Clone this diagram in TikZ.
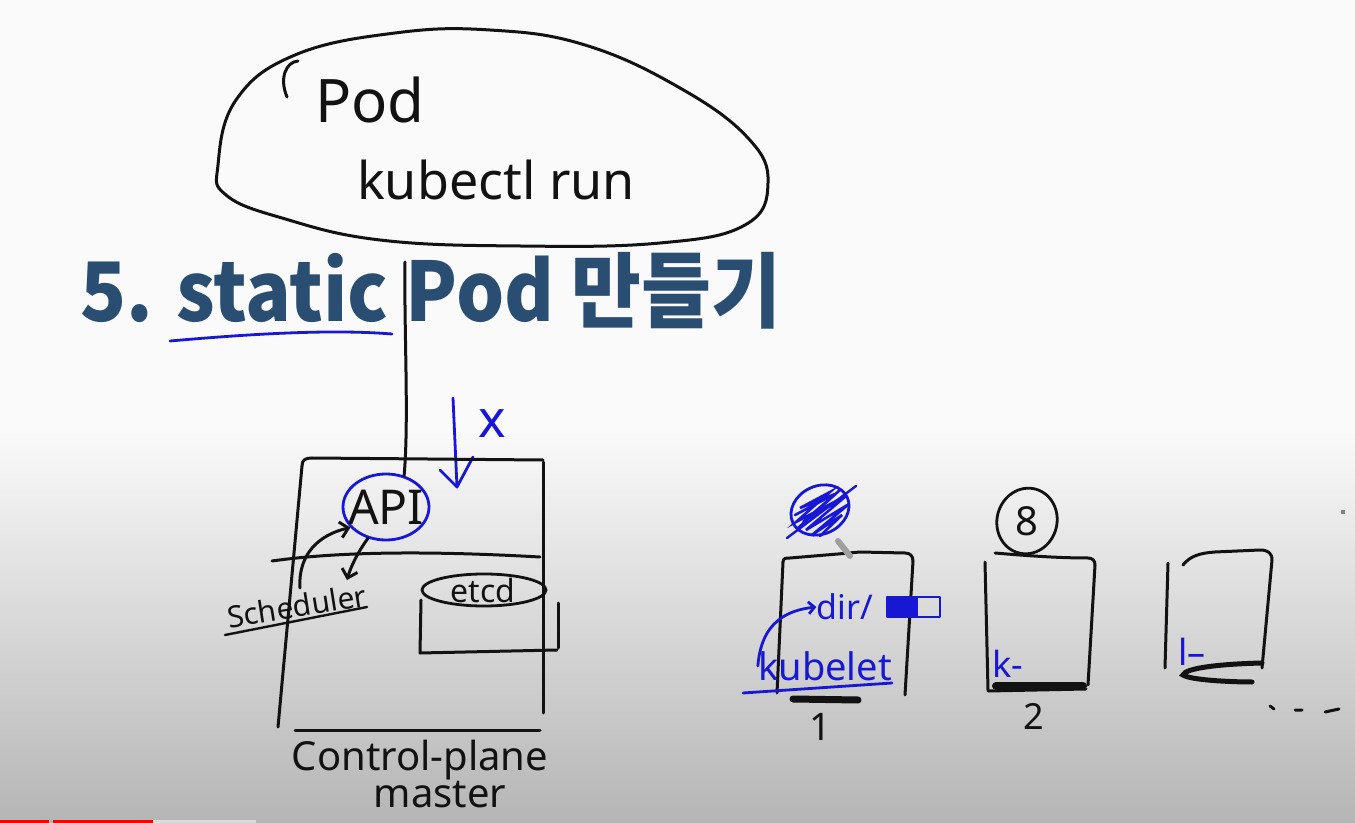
\documentclass[tikz,border=0pt]{standalone}
\usepackage{fontspec}
\setmainfont{Noto Sans}
\newfontfamily\titlefont{Noto Sans CJK KR}
\usetikzlibrary{arrows.meta,shapes.geometric}
\definecolor{pen}{RGB}{18,18,18}
\definecolor{bpen}{RGB}{24,24,212}
\definecolor{titleblue}{RGB}{42,77,114}
\newcommand\myfs[1]{\fontsize{#1}{#1}\selectfont}
\tikzset{
  ink/.style={draw=pen, line width=1.5pt, line cap=round, line join=round},
  bink/.style={draw=bpen, line width=1.4pt, line cap=round, line join=round},
  hand/.style={inner sep=0pt, text=pen},
  bhand/.style={inner sep=0pt, text=bpen},
  barb/.style={-{Straight Barb[length=4pt,width=8pt]}},
  blob/.style={ellipse, inner sep=0pt, line width=1.4pt},
}
\begin{document}
\begin{tikzpicture}[x=0.5pt,y=-0.5pt]
\useasboundingbox (0,0) rectangle (1355,823);
% background
\fill[white!98!black] (0,0) rectangle (1355,431);
\shade[top color=white!98!black, bottom color=white!71!black] (0,430) rectangle (1355,823);
\fill[red] (0,820) rectangle (49,823);
\fill[red] (53,820) rectangle (153,823);
\fill[white!86!black] (153,820) rectangle (256,823);

% Pod cloud
\draw[ink] plot[smooth cycle, tension=0.7] coordinates {(218,165) (236,100) (295,55) (395,33) (490,30) (585,45) (680,88) (748,138) (768,183) (745,225) (660,243) (520,246) (380,240) (282,218) (226,195)};
\draw[ink] (298,61) .. controls (286,62) and (279,78) .. (287,97);
\node[hand, font=\myfs{30}] (podlbl) at (370,100) {Pod};
\node[hand, font=\myfs{26}] (kub) at (496,180) {kubectl run};

% title
\node[anchor=base west, inner sep=0pt, text=titleblue, xscale=0.925, font=\titlefont\bfseries\myfs{41}] (title) at (80,322) {5. static Pod 만들기};
\draw[bink] (170,341) .. controls (250,334) and (330,329) .. (392,334);

% control plane
\node[blob, draw=bpen, minimum width=43pt, minimum height=33pt] (api) at (386,507) {};
\node[hand, font=\myfs{24}] (apitxt) at (api) {API};
\coordinate (ltop) at (405,262);
\draw[ink] (ltop) .. controls (404,330) and (409,420) .. (api.60);
\coordinate (xa) at (453,398);
\coordinate (xb) at (457,487);
\draw[bink] (xa) -- (xb);
\draw[bink] (440,470) -- (xb) -- (473,457);
\node[bhand, font=\myfs{26}] (xlbl) at (492,424) {x};

\draw[ink] (302,466) .. controls (302,460) and (305,458) .. (312,458) -- (543,460);
\draw[ink] (302,466) -- (278,727);
\draw[ink] (543,462) -- (543,713);
\draw[ink] (272,561) .. controls (350,550) and (450,552) .. (540,557);
\draw[ink] (295,730) -- (540,730);

\node[hand, rotate=9, font=\myfs{15}] (sched) at (297,606) {Scheduler};
\draw[ink, line width=1.2pt] (225,635) -- (367,607);
\coordinate (s1) at (300,588);
\coordinate (s2) at (347,580);
\draw[ink, barb] (s1) .. controls (298,555) and (318,535) .. (api.210);
\draw[ink, barb] (api.240) .. controls (358,552) and (351,566) .. (s2);

\node[blob, draw=pen, minimum width=62pt, minimum height=16pt] (etcd) at (484,590) {};
\node[hand, font=\myfs{16}] (etcdtxt) at (483,591) {etcd};
\draw[ink] (421,600) -- (420,653) -- (557,650);
\draw[ink] (558,603) -- (558,648);

\node[hand, font=\myfs{20}] (cp) at (420,760) {Control-plane};
\node[hand, font=\myfs{20}, anchor=base] (master) at (440,807) {master};

% node 1
\draw[ink] (783,562) .. controls (783,558) and (786,558) .. (790,558) -- (838,554) -- (860,552) -- (905,553) .. controls (910,553) and (913,556) .. (913,561);
\draw[ink] (783,562) -- (777,693);
\draw[ink] (913,561) -- (905,695);
\draw[pen, line width=3.5pt, line cap=round] (793,699) -- (858,700);
\node[blob, draw=bpen, minimum width=30pt, minimum height=24pt, rotate=25] (pod1) at (820,510) {};
\draw[bpen, line width=1.3pt, line cap=round] plot coordinates {(798,528) (840,490) (803,522) (846,496) (806,530) (849,504) (812,535) (842,515) (820,536)};
\draw[bpen, line width=1.3pt, line cap=round] plot coordinates {(795,515) (835,494) (800,508) (830,492) (796,522) (838,500)};
\draw[bpen, line width=1.2pt, line cap=round] (787,538) -- (856,486);
\coordinate (g1) at (838,541);
\coordinate (g2) at (850,556);
\draw[gray!75, line width=3pt, line cap=round] (g1) -- (g2);
\node[bhand, font=\myfs{17}] (dir) at (845,607) {dir/};
\draw[bink] (887,597) rectangle (940,617);
\fill[bpen] (887,597) rectangle (918,617);
\node[bhand, font=\myfs{19}] (kubelet) at (825,666) {kubelet};
\draw[bink, -{Straight Barb[length=3pt,width=6pt]}] (kubelet.west) .. controls (760,640) and (770,612) .. (dir.west);
\draw[bink] (743,693) -- (892,683);
\node[hand, font=\myfs{19}] (n1) at (820,727) {1};

% node 2
\draw[ink] (995,553) .. controls (1030,556) and (1060,558) .. (1088,558) .. controls (1093,558) and (1095,561) .. (1095,565);
\draw[ink] (985,562) -- (988,690);
\draw[ink] (1095,565) -- (1088,685);
\draw[pen, line width=4pt, line cap=round] (996,686) -- (1083,686);
\draw[ink] (988,691) -- (1086,689);
\node[blob, draw=pen, minimum width=30pt, minimum height=33pt, rotate=-15] (pod2) at (1027,521) {};
\node[hand, font=\myfs{20}] (pod2txt) at (pod2) {8};
\node[bhand, font=\myfs{18}] (k2) at (1008,664) {k-};
\node[hand, font=\myfs{18}] (n2) at (1034,716) {2};

% node 3
\draw[ink] (1183,565) .. controls (1190,556) and (1200,553) .. (1215,552) -- (1260,550) .. controls (1268,550) and (1272,553) .. (1272,560) -- (1262,668);
\draw[ink] (1168,563) -- (1165,668);
\draw[pen, line width=2.5pt, line cap=round] (1262,663) .. controls (1220,664) and (1185,668) .. (1183,675) .. controls (1190,680) and (1230,682) .. (1252,682);
\node[bhand, font=\myfs{18}] (k3) at (1192,652) {l–};

\draw[ink] (1270,706) -- (1274,709) (1295,710) -- (1302,710) (1325,712) -- (1339,709);
\fill[gray] (1341,510) rectangle (1345,514);
\end{tikzpicture}
\end{document}
